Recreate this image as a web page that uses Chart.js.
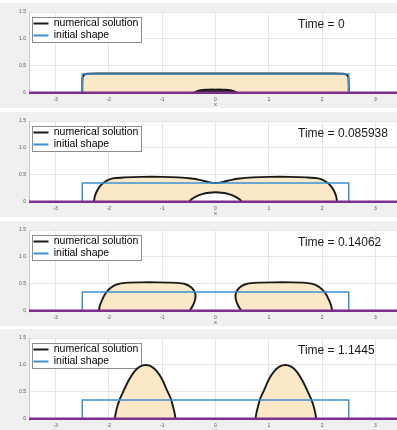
<!DOCTYPE html>
<html><head><meta charset="utf-8">
<script src="https://cdn.jsdelivr.net/npm/chart.js@4/dist/chart.umd.min.js"></script>
<style>
html,body{margin:0;padding:0;background:#fff;width:397px;height:430px;overflow:hidden;position:relative;}
.panel{position:absolute;left:0;width:420px;height:105px;background:#f0f0f0;}
canvas{display:block;}
</style></head><body>
<div class="panel" style="top:3px"><canvas id="c0" width="420" height="105"></canvas></div>
<div class="panel" style="top:112px"><canvas id="c1" width="420" height="105"></canvas></div>
<div class="panel" style="top:221px"><canvas id="c2" width="420" height="105"></canvas></div>
<div class="panel" style="top:329px"><canvas id="c3" width="420" height="105"></canvas></div>
<script>
// ---- data ----
const xTicks = [-3, -2, -1, 0, 1, 2, 3];
const yTicks = [0, 0.5, 1, 1.5];
const timeLabels = ['Time = 0', 'Time = 0.085938', 'Time = 0.14062', 'Time = 1.1445'];
const legendLabels = ['numerical solution', 'initial shape'];
const axisTitle = 'x';

const initialShapeX = [-2.5, -2.5, 2.5, 2.5];
const initialShapeY = [0, 0.35, 0.35, 0];
const substrateX = [-3.5, 3.5];
const substrateY = [0, 0];

// Time = 0
const t0ShapeX = [-2.5, -2.5, -2.495, -2.48, -2.45, -2.4, -2.2, 0, 2.2, 2.4, 2.45, 2.48, 2.495, 2.5, 2.5];
const t0ShapeY = [0, 0.15, 0.28, 0.32, 0.345, 0.355, 0.36, 0.36, 0.36, 0.355, 0.345, 0.32, 0.28, 0.15, 0];
const t0SeedX = [-0.42, -0.3, -0.15, 0, 0.15, 0.3, 0.42];
const t0SeedY = [0, 0.045, 0.06, 0.062, 0.06, 0.045, 0];

// Time = 0.085938
const t1OuterX = [-2.28, -2.27, -2.24, -2.19, -2.12, -2.03, -1.9, -1.7, -1.4, -1.0, -0.7, -0.45, -0.28, -0.14, 0,
                  0.14, 0.28, 0.45, 0.7, 1.0, 1.4, 1.7, 1.9, 2.03, 2.12, 2.19, 2.24, 2.27, 2.28];
const t1OuterY = [0, 0.08, 0.17, 0.26, 0.34, 0.40, 0.44, 0.455, 0.465, 0.465, 0.455, 0.435, 0.405, 0.37, 0.35,
                  0.37, 0.405, 0.435, 0.455, 0.465, 0.465, 0.455, 0.44, 0.40, 0.34, 0.26, 0.17, 0.08, 0];
const t1BubbleX = [-0.5, -0.45, -0.37, -0.25, -0.12, 0, 0.12, 0.25, 0.37, 0.45, 0.5];
const t1BubbleY = [0, 0.05, 0.1, 0.145, 0.17, 0.178, 0.17, 0.145, 0.1, 0.05, 0];

// Time = 0.14062
const t2LeftX = [-2.19, -2.17, -2.13, -2.08, -2.01, -1.92, -1.8, -1.65, -1.4, -1.1, -0.85, -0.67, -0.55, -0.46, -0.4, -0.375, -0.385, -0.42, -0.46, -0.49];
const t2LeftY = [0, 0.1, 0.2, 0.3, 0.39, 0.46, 0.505, 0.525, 0.53, 0.53, 0.525, 0.515, 0.49, 0.44, 0.37, 0.29, 0.2, 0.11, 0.04, 0];
const t2RightX = [0.49, 0.46, 0.42, 0.385, 0.375, 0.4, 0.46, 0.55, 0.67, 0.85, 1.1, 1.4, 1.65, 1.8, 1.92, 2.01, 2.08, 2.13, 2.17, 2.19];
const t2RightY = [0, 0.04, 0.11, 0.2, 0.29, 0.37, 0.44, 0.49, 0.515, 0.525, 0.53, 0.53, 0.525, 0.505, 0.46, 0.39, 0.3, 0.2, 0.1, 0];

// Time = 1.1445
const t3LeftX = [-1.89, -1.87, -1.84, -1.79, -1.72, -1.62, -1.52, -1.42, -1.31, -1.2, -1.1, -1.0, -0.91, -0.84, -0.80, -0.77, -0.75];
const t3LeftY = [0, 0.12, 0.24, 0.38, 0.53, 0.73, 0.88, 0.97, 1.0, 0.97, 0.88, 0.73, 0.53, 0.38, 0.24, 0.12, 0];
const t3RightX = [0.75, 0.77, 0.80, 0.84, 0.91, 1.0, 1.1, 1.2, 1.31, 1.42, 1.52, 1.62, 1.72, 1.79, 1.84, 1.87, 1.89];
const t3RightY = [0, 0.12, 0.24, 0.38, 0.53, 0.73, 0.88, 0.97, 1.0, 0.97, 0.88, 0.73, 0.53, 0.38, 0.24, 0.12, 0];

// ---- styles ----
const BLACK = '#1a1a1a', BLUE = '#3b90d2', PURPLE = '#7e2f8e', BEIGE = '#fbe8c6';
const FONT = "'Liberation Sans', Arial, sans-serif";

const pts = (xs, ys) => xs.map((v, i) => ({x: v, y: ys[i]}));

const panels = [
  [{x: t0ShapeX, y: t0ShapeY, bg: BEIGE}, {x: t0SeedX, y: t0SeedY, bg: '#2a2a2a'}],
  [{x: t1OuterX, y: t1OuterY, bg: BEIGE}, {x: t1BubbleX, y: t1BubbleY, bg: '#ffffff'}],
  [{x: t2LeftX, y: t2LeftY, bg: BEIGE}, {x: t2RightX, y: t2RightY, bg: BEIGE}],
  [{x: t3LeftX, y: t3LeftY, bg: BEIGE}, {x: t3RightX, y: t3RightY, bg: BEIGE}]
];

const decor = {
  id: 'decor',
  beforeDraw(chart) {
    const {ctx, chartArea: a} = chart;
    ctx.save();
    ctx.fillStyle = '#ffffff';
    ctx.fillRect(a.left, a.top, a.right - a.left, a.bottom - a.top);
    ctx.restore();
  },
  afterLayout(chart) {
    const L = chart.legend, a = chart.chartArea;
    if (L) { L.left = a.left + 3; L.top = a.top + 4.75; }
  },
  beforeDatasetsDraw(chart) {
    const L = chart.legend, ctx = chart.ctx;
    if (!L) return;
    ctx.save();
    ctx.font = "10.5px " + FONT;
    const tw = Math.max(...legendLabels.map(t => ctx.measureText(t).width));
    const x0 = Math.round(L.left) + 0.5, y0 = Math.round(L.top) + 0.5;
    const w = Math.round(1.5 + 15 + 5.25 + tw + 3), h = 25;
    ctx.fillStyle = '#ffffff';
    ctx.fillRect(x0, y0, w, h);
    ctx.strokeStyle = '#8c8c8c';
    ctx.lineWidth = 1;
    ctx.strokeRect(x0, y0, w, h);
    ctx.restore();
    L.draw();
  },
  afterDatasetsDraw(chart) {
    const {ctx, chartArea: a} = chart;
    ctx.save();
    ctx.font = "12px " + FONT;
    ctx.fillStyle = '#1a1a1a';
    ctx.textBaseline = 'middle';
    ctx.textAlign = 'left';
    ctx.fillText(timeLabels[chart.options.plugins.decor.idx], a.left + 269, a.top + 12.5);
    ctx.restore();
  }
};

panels.forEach((shapes, idx) => {
  const datasets = [
    {data: pts(substrateX, substrateY), borderColor: PURPLE, borderWidth: 3, fill: false, order: 0, tension: 0},
    {data: pts(initialShapeX, initialShapeY), borderColor: BLUE, borderWidth: 1.5, fill: false, order: 1, tension: 0}
  ];
  shapes.forEach((s, k) => {
    datasets.push({
      data: pts(s.x, s.y), borderColor: BLACK, borderWidth: 1.9,
      backgroundColor: s.bg, fill: 'shape', order: 10 - k, tension: 0.3
    });
  });
  new Chart(document.getElementById('c' + idx), {
    type: 'line',
    data: {datasets},
    plugins: [decor],
    options: {
      responsive: false, animation: false, devicePixelRatio: 1,
      layout: {padding: {top: 9, bottom: 0, left: 0, right: 18}},
      elements: {point: {radius: 0, hoverRadius: 0}, line: {capBezierPoints: true}},
      scales: {
        x: {
          type: 'linear', min: -3.5, max: 3.5,
          afterBuildTicks: s => { s.ticks = xTicks.map(v => ({value: v})); },
          afterFit: s => { s.height = 14; },
          grid: {color: '#e6e6e6', drawTicks: false, lineWidth: 1},
          border: {display: false},
          ticks: {font: {family: FONT, size: 5}, color: '#555', padding: 3, maxRotation: 0, autoSkip: false},
          title: {display: true, text: axisTitle, font: {family: FONT, size: 6}, color: '#555', padding: {top: 0, bottom: 0}}
        },
        y: {
          type: 'linear', min: -0.02, max: 1.5,
          afterBuildTicks: s => { s.ticks = yTicks.map(v => ({value: v})); },
          afterFit: s => { s.width = 29; },
          grid: {color: '#e6e6e6', drawTicks: false, lineWidth: 1},
          border: {display: true, color: '#c8c8c8'},
          ticks: {font: {family: FONT, size: 5}, color: '#555', padding: 3}
        }
      },
      plugins: {
        decor: {idx},
        tooltip: {enabled: false},
        legend: {
          position: 'chartArea', align: 'start',
          labels: {
            font: {family: FONT, size: 10.5}, color: '#111',
            boxWidth: 15, boxHeight: 2, padding: 1.5,
            generateLabels: () => [
              {text: legendLabels[0], fillStyle: BLACK, strokeStyle: BLACK, lineWidth: 0, hidden: false, datasetIndex: 2},
              {text: legendLabels[1], fillStyle: BLUE, strokeStyle: BLUE, lineWidth: 0, hidden: false, datasetIndex: 1}
            ]
          }
        }
      }
    }
  });
});
</script>
</body></html>
